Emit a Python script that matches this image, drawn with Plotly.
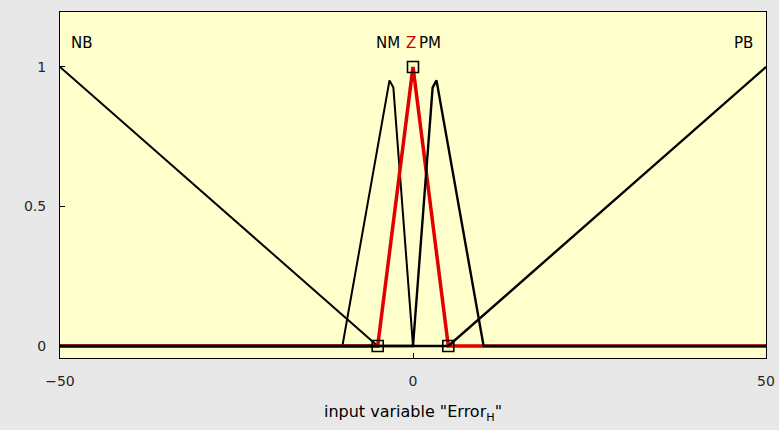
import plotly.graph_objects as go

# Membership functions (vertices), drawn in MATLAB order
mf_names = ["NB", "NM", "Z", "PM", "PB"]
nb_x = [-50, -5, 50]
nb_y = [1, 0, 0]
nm_x = [-50, -10, -3.33, -2.78, 0, 50]
nm_y = [0, 0, 0.952, 0.926, 0, 0]
z_x = [-50, -5, 0, 5, 50]
z_y = [0, 0, 1, 0, 0]
pm_x = [-50, 0, 2.78, 3.33, 10, 50]
pm_y = [0, 0, 0.926, 0.952, 0, 0]
pb_x = [-50, 5, 50]
pb_y = [0, 0, 1]

# Selected MF parameter markers (Z)
z_params_x = [-5, 0, 5]
z_params_y = [0, 1, 0]

# Labels
label_text = ["NB", "NM", "Z", "PM", "PB"]
label_x = [-46.9, -3.6, -0.3, 2.4, 46.8]
label_y = [1.085, 1.085, 1.085, 1.085, 1.085]
label_color = ["black", "black", "#d00000", "black", "black"]

x_ticks = [-50, 0, 50]
y_ticks = [0, 0.5, 1]

FONT = "DejaVu Sans, Liberation Sans, Arial"

fig = go.Figure()
black = dict(color="black", width=2)
fig.add_trace(go.Scatter(x=nb_x, y=nb_y, mode="lines", line=black, name="NB"))
fig.add_trace(go.Scatter(x=nm_x, y=nm_y, mode="lines", line=black, name="NM"))
fig.add_trace(go.Scatter(x=z_x, y=z_y, mode="lines", line=dict(color="#e00000", width=3.5), name="Z"))
fig.add_trace(go.Scatter(x=pm_x, y=pm_y, mode="lines", line=dict(color="black", width=2.4), name="PM"))
fig.add_trace(go.Scatter(x=pb_x, y=pb_y, mode="lines", line=dict(color="black", width=2.4), name="PB"))
fig.add_trace(go.Scatter(x=z_params_x, y=z_params_y, mode="markers",
                         marker=dict(symbol="square-open", size=11, color="black",
                                     line=dict(width=1.6, color="black")),
                         name="params"))

for t, x, y, c in zip(label_text, label_x, label_y, label_color):
    fig.add_annotation(x=x, y=y, text=t, showarrow=False,
                       font=dict(family=FONT, size=15, color=c),
                       xanchor="center", yanchor="middle")

fig.update_layout(
    width=779, height=430,
    margin=dict(l=60, r=13, t=12, b=72),
    paper_bgcolor="#e8e8e8",
    plot_bgcolor="#ffffcc",
    showlegend=False,
    font=dict(family=FONT, size=14, color="#262626"),
)
fig.update_xaxes(range=[-50, 50], tickvals=x_ticks, ticks="inside", ticklen=5,
                 tickcolor="black", showline=True, linecolor="black", linewidth=1,
                 mirror=True, showgrid=False, zeroline=False, ticklabelstandoff=10,
                 automargin=False,
                 title=dict(text='input variable "Error<sub>H</sub>"',
                            font=dict(size=16, color="black"), standoff=18))
fig.update_yaxes(range=[-0.043, 1.197], tickvals=y_ticks, ticktext=["0", "0.5", "1"],
                 ticks="inside", ticklen=5, tickcolor="black", showline=True,
                 linecolor="black", linewidth=1, mirror=True, showgrid=False,
                 zeroline=False, ticklabelstandoff=10, automargin=False)

fig.write_html("out.html", config={"displayModeBar": False},
               post_script="document.body.style.margin='0px';")
